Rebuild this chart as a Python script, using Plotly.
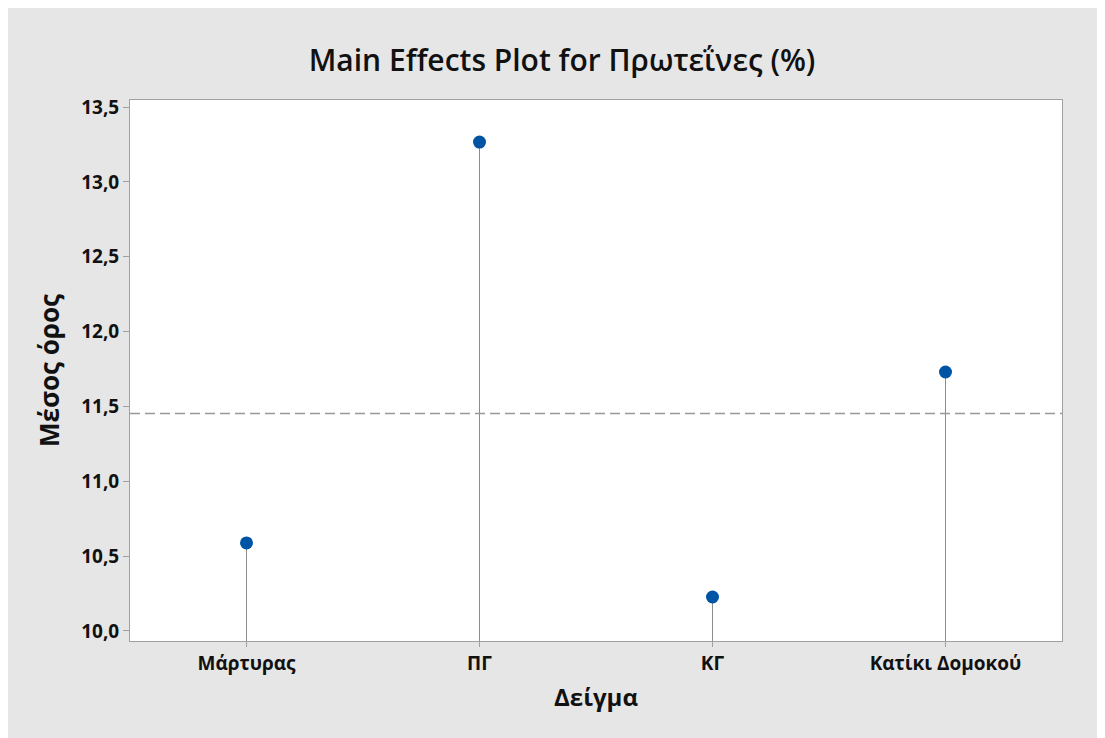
import plotly.graph_objects as go

categories = ["Μάρτυρας", "ΠΓ", "ΚΓ", "Κατίκι Δομοκού"]
means = [10.588, 13.266, 10.227, 11.730]
y_ticks = [10.0, 10.5, 11.0, 11.5, 12.0, 12.5, 13.0, 13.5]
y_tick_labels = ["10,0", "10,5", "11,0", "11,5", "12,0", "12,5", "13,0", "13,5"]

grand_mean = sum(means) / len(means)
y_range = [9.933, 13.547]
font = "Open Sans, Noto Sans, sans-serif"

xs = list(range(len(categories)))

# stems from the bottom of the axis up to each mean
stem_x, stem_y = [], []
for i, m in zip(xs, means):
    stem_x += [i, i, None]
    stem_y += [y_range[0], m, None]

fig = go.Figure()
fig.add_trace(go.Scatter(x=stem_x, y=stem_y, mode="lines",
                         line=dict(color="#8c8c8c", width=1), hoverinfo="skip"))
fig.add_trace(go.Scatter(x=xs, y=means, mode="markers",
                         marker=dict(color="#0054a6", size=13)))

fig.add_shape(type="line", xref="paper", x0=0, x1=1, y0=grand_mean, y1=grand_mean,
              line=dict(color="#999999", width=1.5, dash="10px,5px"))

fig.update_layout(
    width=1097, height=730,
    paper_bgcolor="#e6e6e6", plot_bgcolor="white",
    showlegend=False,
    margin=dict(l=122, r=43, t=92, b=97),
    title=dict(text="Main Effects Plot for Πρωτεΐνες (%)", x=0.505, xref="container",
               y=1 - 52 / 730, yanchor="middle",
               font=dict(family=font, size=30, color="#111111", weight=600)),
    font=dict(family=font, color="#111111"),
)
fig.update_xaxes(
    range=[-0.5, 3.5], tickvals=xs, ticktext=categories,
    tickfont=dict(size=19, family=font, weight="bold"),
    ticks="outside", ticklen=5, tickcolor="#a0a0a0",
    showgrid=False, zeroline=False,
    showline=True, linecolor="#a0a0a0", linewidth=1, mirror=True,
    title=dict(text="Δείγμα", font=dict(size=24, family=font, weight="bold"), standoff=14),
)
fig.update_yaxes(
    range=y_range, tickvals=y_ticks, ticktext=y_tick_labels,
    tickfont=dict(size=19, family=font, weight="bold"),
    ticks="outside", ticklen=6, tickcolor="#a0a0a0",
    showgrid=False, zeroline=False,
    showline=True, linecolor="#a0a0a0", linewidth=1, mirror=True,
    title=dict(text="Μέσος όρος", font=dict(size=26, family=font, weight="bold"), standoff=14),
)

fig.write_html("out.html")
